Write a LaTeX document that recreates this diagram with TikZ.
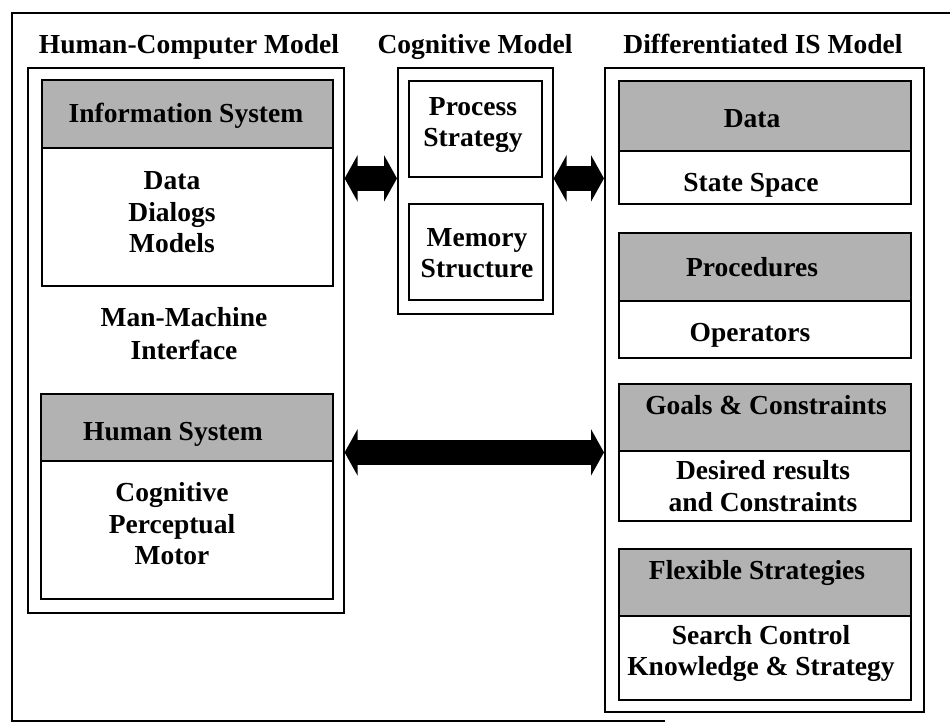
\documentclass[tikz,border=0pt]{standalone}
\usepackage{fontspec}
\setmainfont{Liberation Serif}
\usetikzlibrary{arrows.meta}
\tikzset{
  obox/.style={draw, line width=1.6pt, anchor=north west, inner sep=0pt},
  ibox/.style={draw, line width=2.4pt, anchor=north west, inner sep=0pt},
  hdr/.style={draw, line width=2.4pt, fill=black!30, anchor=north west, inner sep=0pt},
  lbl/.style={font=\fontsize{27.5}{31.5}\selectfont\bfseries, align=center, inner sep=0pt},
  fat/.style={line width=25pt, {Triangle[length=13pt,width=46pt]}-{Triangle[length=13pt,width=46pt]}},
}
\begin{document}
\begin{tikzpicture}[x=1pt,y=-1pt]
\useasboundingbox (0,0) rectangle (950,725);
% outer frame (right side lost in the original)
\draw[line width=1.8pt] (950,13) -- (12,13) -- (12,721) -- (665,721);

% titles
\node[lbl] (t1) at (189,47) {\strut Human-Computer Model};
\node[lbl] (t2) at (475,47) {\strut Cognitive Model};
\node[lbl] (t3) at (763,47) {\strut Differentiated IS Model};

% Human-Computer model
\node[obox, minimum width=316, minimum height=545] (hc) at (27,67) {};
\node[ibox, minimum width=291, minimum height=206] (is) at (41,79) {};
\node[hdr, minimum width=291, minimum height=68] (ish) at (is.north west) {};
\node[lbl] (ist) at (186,116) {\strut Information System};
\node[lbl] (isb) at (172,215) {\strut Data\\\strut Dialogs\\\strut Models};
\node[lbl] (mmi) at (184,337) {\strut Man-Machine\\[1.5pt]\strut Interface};
\node[ibox, minimum width=292, minimum height=205] (hs) at (40,393) {};
\node[hdr, minimum width=292, minimum height=67] (hsh) at (hs.north west) {};
\node[lbl] (hst) at (173,434) {\strut Human System};
\node[lbl] (hsb) at (172,527) {\strut Cognitive\\\strut Perceptual\\\strut Motor};

% Cognitive model
\node[obox, minimum width=155, minimum height=246] (cog) at (397,67) {};
\node[ibox, minimum width=133, minimum height=96] (ps) at (408,80) {};
\node[lbl] (pst) at (473,124.5) {\strut Process\\\strut Strategy};
\node[ibox, minimum width=134, minimum height=96] (ms) at (408,203) {};
\node[lbl] (mst) at (477,255.5) {\strut Memory\\\strut Structure};

% Differentiated IS model
\node[obox, minimum width=319, minimum height=644] (diff) at (604,67) {};
\node[ibox, minimum width=292, minimum height=123] (db) at (618,80) {};
\node[hdr, minimum width=292, minimum height=70] (dh) at (db.north west) {};
\node[lbl] (dt) at (752,121) {\strut Data};
\node[lbl] (dbt) at (751,185) {\strut State Space};

\node[ibox, minimum width=292, minimum height=125] (pb) at (618,232) {};
\node[hdr, minimum width=292, minimum height=68] (ph) at (pb.north west) {};
\node[lbl] (pt) at (752,270) {\strut Procedures};
\node[lbl] (pbt) at (750,335) {\strut Operators};

\node[ibox, minimum width=292, minimum height=137] (gb) at (618,383) {};
\node[hdr, minimum width=292, minimum height=67] (gh) at (gb.north west) {};
\node[lbl] (gt) at (766,408) {\strut Goals \& Constraints};
\node[lbl] (gbt) at (763,489) {\strut Desired results\\\strut and Constraints};

\node[ibox, minimum width=292, minimum height=151] (fb) at (618,548) {};
\node[hdr, minimum width=292, minimum height=67] (fh) at (fb.north west) {};
\node[lbl] (ft) at (757,573) {\strut Flexible Strategies};
\node[lbl] (fbt) at (761,653.5) {\strut Search Control\\\strut Knowledge \& Strategy};

% arrows
\draw[fat] (hc.east |- ps.south) -- (cog.west |- ps.south);
\draw[fat] (cog.east |- ps.south) -- (diff.west |- ps.south);
\draw[fat] (hc.east |- gh.south) -- (diff.west |- gh.south);
\end{tikzpicture}
\end{document}
